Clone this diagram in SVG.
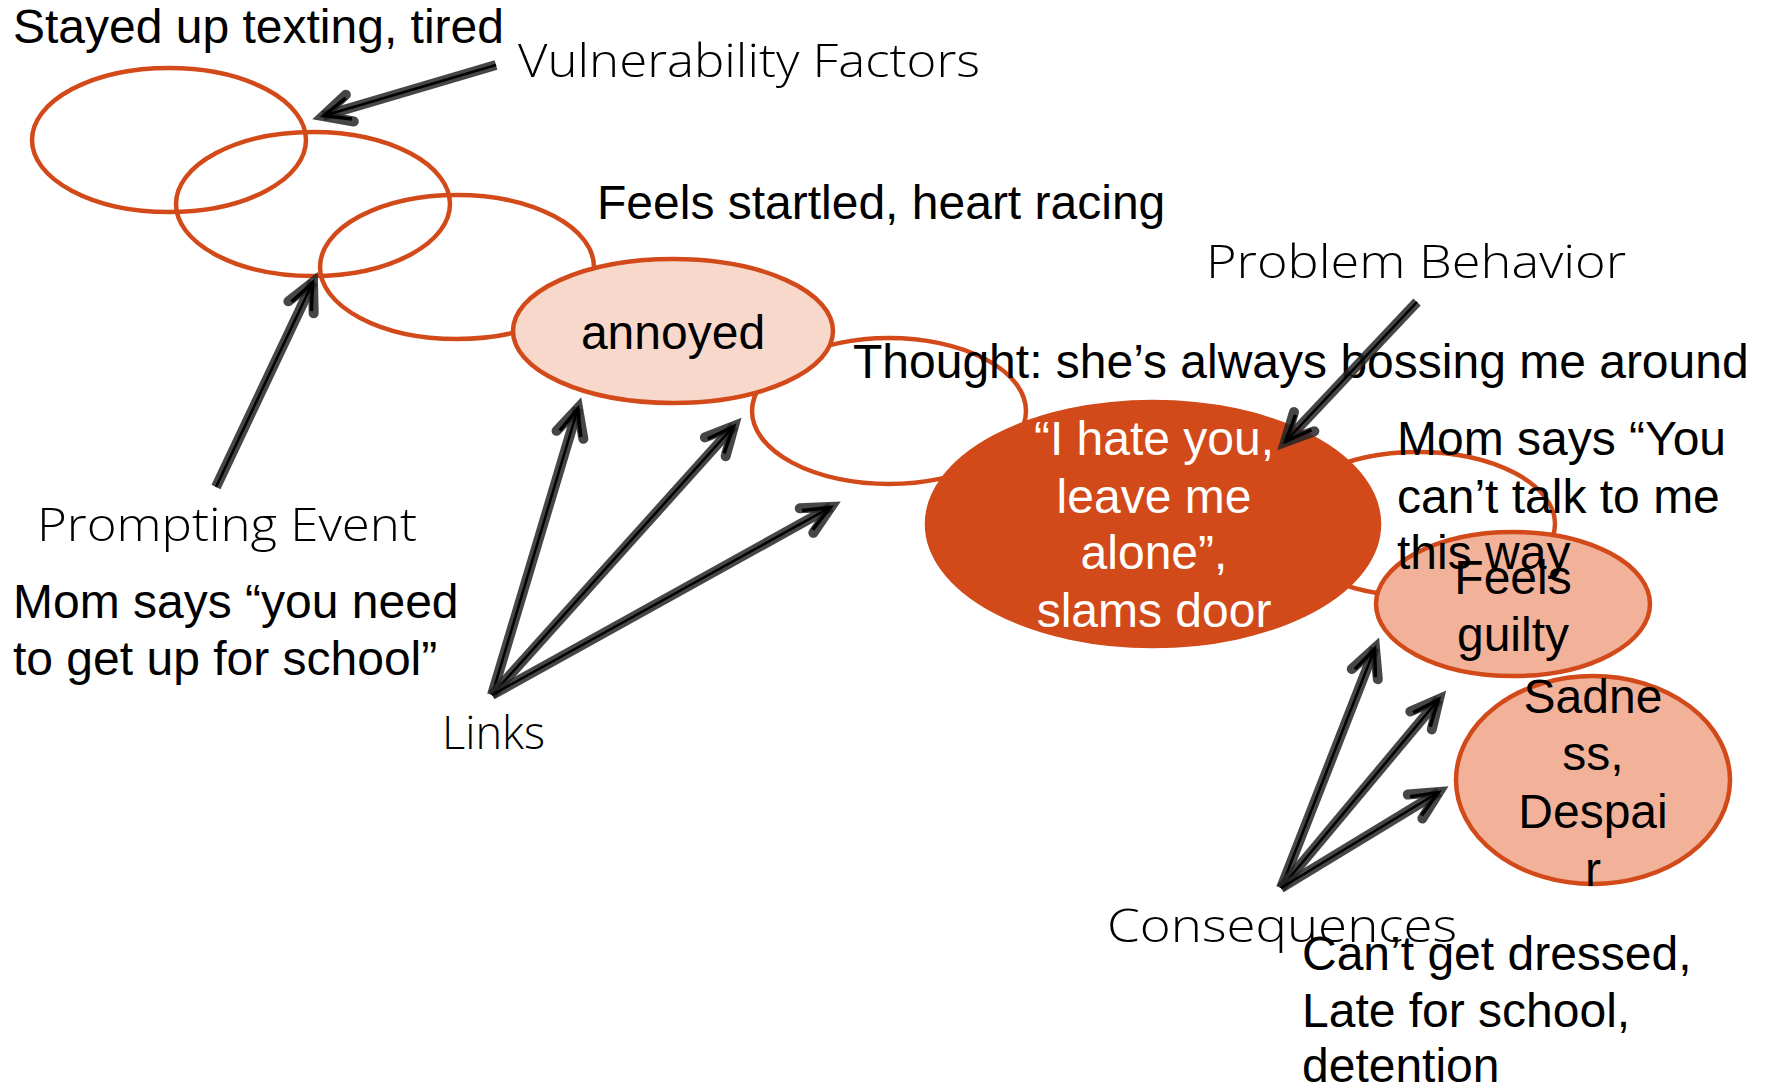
<svg xmlns="http://www.w3.org/2000/svg" width="1767" height="1087" viewBox="0 0 1767 1087">
<style>
.e{stroke:#D24A1A;stroke-width:4.5;fill:none}
.t{font-family:"Liberation Sans",Arial,sans-serif;font-size:48px;fill:#000}
.w{fill:#fff}
.l{font-family:"Open Sans","Lato",sans-serif;font-weight:300;font-size:46px;fill:#000}
.c{text-anchor:middle}
.a1{stroke:#262626;stroke-opacity:0.85;stroke-width:10;fill:none;stroke-linecap:butt}
.a2{stroke:#000;stroke-width:2.5;fill:none}
</style>
<defs>
<marker id="ah" markerUnits="userSpaceOnUse" markerWidth="70" markerHeight="70" viewBox="-40 -35 70 70" refX="0" refY="0" orient="auto" overflow="visible">
<polyline points="-28,-14 0,0 -28,14" fill="none" stroke="#262626" stroke-opacity="0.85" stroke-width="10" stroke-linecap="round" stroke-linejoin="miter"/>
<polyline points="-27,-11 -1,0 -27,11" fill="none" stroke="#000" stroke-width="3.5" stroke-linejoin="miter"/>
</marker>
</defs>
<rect width="1767" height="1087" fill="#fff"/>

<g id="vuln1"><ellipse class="e" cx="169" cy="140" rx="137" ry="72"/></g>
<g id="vuln2"><ellipse class="e" cx="313" cy="204" rx="137" ry="72"/></g>
<g id="vuln3"><ellipse class="e" cx="457" cy="267" rx="137" ry="72"/></g>
<g id="thought-ellipse"><ellipse class="e" cx="889" cy="411" rx="137" ry="73"/></g>
<g id="consequent-ellipse"><ellipse class="e" cx="1418" cy="524" rx="137" ry="72"/></g>
<g id="annoyed"><ellipse class="e" cx="673" cy="331" rx="160" ry="72" style="fill:#F8D8CB"/>
<text class="t c" x="673" y="349">annoyed</text></g>
<g id="behavior"><ellipse class="e" cx="1153" cy="524" rx="226" ry="122" style="fill:#D24A1A"/>
<text class="t c w" x="1154" y="455">“I hate you,</text>
<text class="t c w" x="1154" y="513">leave me</text>
<text class="t c w" x="1154" y="569">alone”,</text>
<text class="t c w" x="1154" y="627">slams door</text></g>
<g id="mom-says-you"><text class="t" x="1397" y="455">Mom says “You</text>
<text class="t" x="1397" y="513">can’t talk to me</text></g>
<g id="guilty"><ellipse class="e" cx="1513" cy="604" rx="137" ry="72" style="fill:#F2B29A"/>
<text class="t" x="1397" y="569">this way</text>
<text class="t c" x="1513" y="594">Feels</text>
<text class="t c" x="1513" y="651">guilty</text></g>
<g id="sadness"><ellipse class="e" cx="1593" cy="780" rx="137" ry="104" style="fill:#F2B29A"/>
<text class="t c" x="1593" y="713">Sadne</text>
<text class="t c" x="1593" y="770">ss,</text>
<text class="t c" x="1593" y="828">Despai</text>
<text class="t c" x="1593" y="886">r</text></g>

<g id="labels">
<text class="t" x="13" y="43">Stayed up texting, tired</text>
<text class="l" x="518" y="77" textLength="462" lengthAdjust="spacingAndGlyphs">Vulnerability Factors</text>
<text class="t" x="597" y="219">Feels startled, heart racing</text>
<text class="l" x="1206" y="278" textLength="420" lengthAdjust="spacingAndGlyphs">Problem  Behavior</text>
<text class="t" x="853" y="378">Thought: she’s always bossing me around</text>
<text class="l" x="37" y="541" textLength="380" lengthAdjust="spacingAndGlyphs">Prompting Event</text>
<text class="t" x="13" y="618">Mom says “you need</text>
<text class="t" x="13" y="675">to get up for school”</text>
<text class="l" x="442" y="749" textLength="103" lengthAdjust="spacingAndGlyphs">Links</text>
<text class="l" x="1107" y="942" textLength="350" lengthAdjust="spacingAndGlyphs">Consequences</text>
<text class="t" x="1302" y="970">Can’t get dressed,</text>
<text class="t" x="1302" y="1027">Late for school,</text>
<text class="t" x="1302" y="1082">detention</text>
</g>

<g id="connectors">
<path class="a1" d="M496,65 L323,116" marker-end="url(#ah)"/><path class="a2" d="M496,65 L323,116"/>
<path class="a1" d="M216,487 L313,282" marker-end="url(#ah)"/><path class="a2" d="M216,487 L313,282"/>
<path class="a1" d="M492,695 L578,408" marker-end="url(#ah)"/><path class="a2" d="M492,695 L578,408"/>
<path class="a1" d="M492,695 L734,426" marker-end="url(#ah)"/><path class="a2" d="M492,695 L734,426"/>
<path class="a1" d="M492,695 L831,507" marker-end="url(#ah)"/><path class="a2" d="M492,695 L831,507"/>
<path class="a1" d="M1417,302 L1285,442" marker-end="url(#ah)"/><path class="a2" d="M1417,302 L1285,442"/>
<path class="a1" d="M1281,888 L1375,648" marker-end="url(#ah)"/><path class="a2" d="M1281,888 L1375,648"/>
<path class="a1" d="M1281,888 L1439,699" marker-end="url(#ah)"/><path class="a2" d="M1281,888 L1439,699"/>
<path class="a1" d="M1281,888 L1439,792" marker-end="url(#ah)"/><path class="a2" d="M1281,888 L1439,792"/>
</g>
</svg>
